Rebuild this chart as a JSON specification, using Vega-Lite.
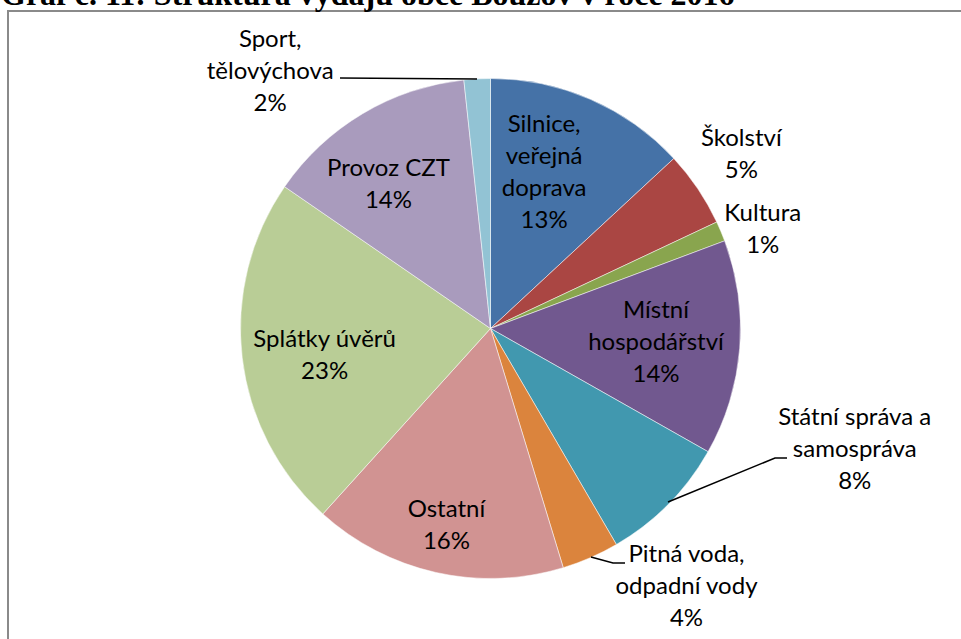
{
  "$schema": "https://vega.github.io/schema/vega-lite/v6.json",
  "width": 965,
  "height": 635,
  "autosize": {"type": "none"},
  "padding": {"left": 8, "top": 11, "right": 0, "bottom": 0},
  "background": "white",
  "title": {
    "text": "Graf č. 11: Struktura výdajů obce Bouzov v roce 2016",
    "font": "Liberation Serif",
    "fontSize": 32,
    "fontWeight": "bold",
    "color": "black",
    "anchor": "start",
    "baseline": "alphabetic",
    "offset": -26,
    "dx": -7
  },
  "config": {
    "view": {"stroke": "#8a8a8a", "strokeWidth": 2},
    "text": {"font": "Lato", "fontSize": 24, "lineHeight": 32, "lineBreak": "\n", "align": "center", "baseline": "middle", "color": "black"}
  },
  "datasets": {
    "slices": [
      {"idx": 1, "name": "Silnice, veřejná doprava", "label": "Silnice,\nveřejná\ndoprava\n13%", "value": 13.1},
      {"idx": 2, "name": "Školství", "label": "Školství\n5%", "value": 4.9},
      {"idx": 3, "name": "Kultura", "label": "Kultura\n1%", "value": 1.3},
      {"idx": 4, "name": "Místní hospodářství", "label": "Místní\nhospodářství\n14%", "value": 13.9},
      {"idx": 5, "name": "Státní správa a samospráva", "label": "Státní správa a\nsamospráva\n8%", "value": 8.4},
      {"idx": 6, "name": "Pitná voda, odpadní vody", "label": "Pitná voda,\nodpadní vody\n4%", "value": 3.7},
      {"idx": 7, "name": "Ostatní", "label": "Ostatní\n16%", "value": 16.4},
      {"idx": 8, "name": "Splátky úvěrů", "label": "Splátky úvěrů\n23%", "value": 22.9},
      {"idx": 9, "name": "Provoz CZT", "label": "Provoz CZT\n14%", "value": 13.7},
      {"idx": 10, "name": "Sport, tělovýchova", "label": "Sport,\ntělovýchova\n2%", "value": 1.7}
    ],
    "leaders": [
      {"line": "sport", "ord": 1, "u": -0.602, "v": 1.002},
      {"line": "sport", "ord": 2, "u": -0.054, "v": 0.998},
      {"line": "statni", "ord": 1, "u": 0.71, "v": -0.694},
      {"line": "statni", "ord": 2, "u": 1.138, "v": -0.518},
      {"line": "statni", "ord": 3, "u": 1.186, "v": -0.518},
      {"line": "pitna", "ord": 1, "u": 0.402, "v": -0.914},
      {"line": "pitna", "ord": 2, "u": 0.49, "v": -0.938},
      {"line": "pitna", "ord": 3, "u": 0.538, "v": -0.938}
    ]
  },
  "layer": [
    {
      "data": {"name": "slices"},
      "mark": {"type": "arc", "outerRadius": 250, "stroke": "white", "strokeWidth": 0.5},
      "encoding": {
        "theta": {"field": "value", "type": "quantitative", "stack": true, "scale": {"domain": [0, 100]}},
        "order": {"field": "idx", "type": "quantitative"},
        "color": {
          "field": "name",
          "type": "nominal",
          "legend": null,
          "scale": {
            "domain": ["Silnice, veřejná doprava", "Školství", "Kultura", "Místní hospodářství", "Státní správa a samospráva", "Pitná voda, odpadní vody", "Ostatní", "Splátky úvěrů", "Provoz CZT", "Sport, tělovýchova"],
            "range": ["#4572A7", "#AA4643", "#89A54E", "#71588F", "#4198AF", "#DB843D", "#D19392", "#B9CD96", "#A99BBD", "#92C3D4"]
          }
        }
      }
    },
    {
      "data": {"name": "leaders"},
      "mark": {"type": "line", "color": "black", "strokeWidth": 1.5},
      "encoding": {
        "x": {"field": "u", "type": "quantitative", "scale": {"domain": [-1.93, 1.93], "nice": false, "zero": false}, "axis": null},
        "y": {"field": "v", "type": "quantitative", "scale": {"domain": [-1.27, 1.27], "nice": false, "zero": false}, "axis": null},
        "detail": {"field": "line", "type": "nominal"},
        "order": {"field": "ord", "type": "quantitative"}
      }
    },
    {
      "data": {"name": "slices"},
      "transform": [
        {"stack": "value", "groupby": [], "sort": [{"field": "idx", "order": "ascending"}], "as": ["v0", "v1"]},
        {"filter": "datum.idx === 1"},
        {"calculate": "(datum.v0 + datum.v1) / 2", "as": "mid"}
      ],
      "mark": {"type": "text", "radius": 164, "dx": -12, "dy": -53},
      "encoding": {"theta": {"field": "mid", "type": "quantitative"}, "text": {"field": "label", "type": "nominal"}}
    },
    {
      "data": {"name": "slices"},
      "transform": [
        {"stack": "value", "groupby": [], "sort": [{"field": "idx", "order": "ascending"}], "as": ["v0", "v1"]},
        {"filter": "datum.idx === 2"},
        {"calculate": "(datum.v0 + datum.v1) / 2", "as": "mid"}
      ],
      "mark": {"type": "text", "radius": 305, "dx": -2, "dy": -19},
      "encoding": {"theta": {"field": "mid", "type": "quantitative"}, "text": {"field": "label", "type": "nominal"}}
    },
    {
      "data": {"name": "slices"},
      "transform": [
        {"stack": "value", "groupby": [], "sort": [{"field": "idx", "order": "ascending"}], "as": ["v0", "v1"]},
        {"filter": "datum.idx === 3"},
        {"calculate": "(datum.v0 + datum.v1) / 2", "as": "mid"}
      ],
      "mark": {"type": "text", "radius": 290, "dx": 5, "dy": -2},
      "encoding": {"theta": {"field": "mid", "type": "quantitative"}, "text": {"field": "label", "type": "nominal"}}
    },
    {
      "data": {"name": "slices"},
      "transform": [
        {"stack": "value", "groupby": [], "sort": [{"field": "idx", "order": "ascending"}], "as": ["v0", "v1"]},
        {"filter": "datum.idx === 4"},
        {"calculate": "(datum.v0 + datum.v1) / 2", "as": "mid"}
      ],
      "mark": {"type": "text", "radius": 166, "dx": 0, "dy": -31},
      "encoding": {"theta": {"field": "mid", "type": "quantitative"}, "text": {"field": "label", "type": "nominal"}}
    },
    {
      "data": {"name": "slices"},
      "transform": [
        {"stack": "value", "groupby": [], "sort": [{"field": "idx", "order": "ascending"}], "as": ["v0", "v1"]},
        {"filter": "datum.idx === 5"},
        {"calculate": "(datum.v0 + datum.v1) / 2", "as": "mid"}
      ],
      "mark": {"type": "text", "radius": 384, "dx": 91, "dy": -180},
      "encoding": {"theta": {"field": "mid", "type": "quantitative"}, "text": {"field": "label", "type": "nominal"}}
    },
    {
      "data": {"name": "slices"},
      "transform": [
        {"stack": "value", "groupby": [], "sort": [{"field": "idx", "order": "ascending"}], "as": ["v0", "v1"]},
        {"filter": "datum.idx === 6"},
        {"calculate": "(datum.v0 + datum.v1) / 2", "as": "mid"}
      ],
      "mark": {"type": "text", "radius": 325, "dx": 66, "dy": -71},
      "encoding": {"theta": {"field": "mid", "type": "quantitative"}, "text": {"field": "label", "type": "nominal"}}
    },
    {
      "data": {"name": "slices"},
      "transform": [
        {"stack": "value", "groupby": [], "sort": [{"field": "idx", "order": "ascending"}], "as": ["v0", "v1"]},
        {"filter": "datum.idx === 7"},
        {"calculate": "(datum.v0 + datum.v1) / 2", "as": "mid"}
      ],
      "mark": {"type": "text", "radius": 202, "dx": 0, "dy": -16},
      "encoding": {"theta": {"field": "mid", "type": "quantitative"}, "text": {"field": "label", "type": "nominal"}}
    },
    {
      "data": {"name": "slices"},
      "transform": [
        {"stack": "value", "groupby": [], "sort": [{"field": "idx", "order": "ascending"}], "as": ["v0", "v1"]},
        {"filter": "datum.idx === 8"},
        {"calculate": "(datum.v0 + datum.v1) / 2", "as": "mid"}
      ],
      "mark": {"type": "text", "radius": 168, "dx": 1, "dy": -8},
      "encoding": {"theta": {"field": "mid", "type": "quantitative"}, "text": {"field": "label", "type": "nominal"}}
    },
    {
      "data": {"name": "slices"},
      "transform": [
        {"stack": "value", "groupby": [], "sort": [{"field": "idx", "order": "ascending"}], "as": ["v0", "v1"]},
        {"filter": "datum.idx === 9"},
        {"calculate": "(datum.v0 + datum.v1) / 2", "as": "mid"}
      ],
      "mark": {"type": "text", "radius": 176, "dx": -12, "dy": -8},
      "encoding": {"theta": {"field": "mid", "type": "quantitative"}, "text": {"field": "label", "type": "nominal"}}
    },
    {
      "data": {"name": "slices"},
      "transform": [
        {"stack": "value", "groupby": [], "sort": [{"field": "idx", "order": "ascending"}], "as": ["v0", "v1"]},
        {"filter": "datum.idx === 10"},
        {"calculate": "(datum.v0 + datum.v1) / 2", "as": "mid"}
      ],
      "mark": {"type": "text", "radius": 268, "dx": -206, "dy": -21},
      "encoding": {"theta": {"field": "mid", "type": "quantitative"}, "text": {"field": "label", "type": "nominal"}}
    }
  ]
}
